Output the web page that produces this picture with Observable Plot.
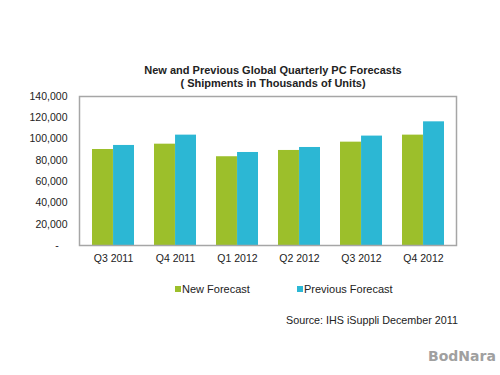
<!DOCTYPE html>
<html>
<head>
<meta charset="utf-8">
<script src="https://cdn.jsdelivr.net/npm/d3@7"></script>
<script src="https://cdn.jsdelivr.net/npm/@observablehq/plot@0.6"></script>
<style>
  html, body { margin: 0; padding: 0; background: #fff; }
  #wrap { position: relative; width: 500px; height: 375px; overflow: hidden; font-family: "Liberation Sans", Arial, sans-serif; color: #222; }
  #chart { position: absolute; left: 0; top: 0; }
  .abs { position: absolute; white-space: nowrap; }
  #title { left: 0; width: 546px; top: 64px; text-align: center; font-weight: bold; font-size: 11px; line-height: 13px; }
  .leg { font-size: 11px; top: 283px; }
  .sw { display: inline-block; width: 6px; height: 6px; margin-right: 1px; vertical-align: 1px; }
  #source { left: 286px; top: 314px; font-size: 10.75px; }
  #mark { left: 428px; top: 348px; font-size: 14px; font-weight: bold; color: #a0a0a0; font-family: "DejaVu Sans", sans-serif; }
</style>
</head>
<body>
<div id="wrap">
  <div id="chart"></div>
  <div id="title" class="abs">New and Previous Global Quarterly PC Forecasts<br>( Shipments in Thousands of Units)</div>
  <div class="abs leg" style="left:175px"><span class="sw" style="background:#9cbf2b"></span>New Forecast</div>
  <div class="abs leg" style="left:297px"><span class="sw" style="background:#2cb7d4"></span>Previous Forecast</div>
  <div id="source" class="abs">Source: IHS iSuppli December 2011</div>
  <div id="mark" class="abs">BodNara</div>
</div>
<script>
const quarters = ["Q3 2011", "Q4 2011", "Q1 2012", "Q2 2012", "Q3 2012", "Q4 2012"];
const newForecast = [90200, 95200, 83400, 89300, 97100, 103700];
const previousForecast = [94000, 103700, 87400, 92100, 102800, 116200];
const seriesNames = ["New Forecast", "Previous Forecast"];
const seriesColors = ["#9cbf2b", "#2cb7d4"];
const yTicks = [0, 20000, 40000, 60000, 80000, 100000, 120000, 140000];

const rowsNew = quarters.map((q, i) => ({quarter: q, series: seriesNames[0], value: newForecast[i]}));
const rowsPrev = quarters.map((q, i) => ({quarter: q, series: seriesNames[1], value: previousForecast[i]}));

const W = 500, H = 375;
const mL = 79, mR = 44, mT = 96, mB = 130;
const padInner = 0.33, padOuter = 0.165;
const step = (W - mL - mR) / (quarters.length - padInner + 2 * padOuter);
const half = step * (1 - padInner) / 2;

const fmt = d3.format(",");
const plot = Plot.plot({
  width: W,
  height: H,
  marginLeft: mL,
  marginRight: mR,
  marginTop: mT,
  marginBottom: mB,
  style: {fontFamily: "'Liberation Sans', Arial, sans-serif", fontSize: "10.5px", color: "#222", background: "transparent"},
  x: {domain: quarters, paddingInner: padInner, paddingOuter: padOuter, label: null},
  y: {domain: [0, 140000], label: null},
  color: {domain: seriesNames, range: seriesColors},
  marks: [
    Plot.barY(rowsNew, {x: "quarter", y: "value", fill: "series", insetRight: half}),
    Plot.barY(rowsPrev, {x: "quarter", y: "value", fill: "series", insetLeft: half}),
    Plot.axisX({tickSize: 0, tickPadding: 9, fontSize: 10.5, fill: "#222"}),
    Plot.axisY({ticks: yTicks, tickSize: 0, tickPadding: 12, fontSize: 10.5, fill: "#222",
      tickFormat: d => d === 0 ? "-\u00a0\u00a0\u00a0" : fmt(d)}),
    Plot.frame({stroke: "#a6a6a6", strokeWidth: 1.5})
  ]
});
document.getElementById("chart").append(plot);
</script>
</body>
</html>
